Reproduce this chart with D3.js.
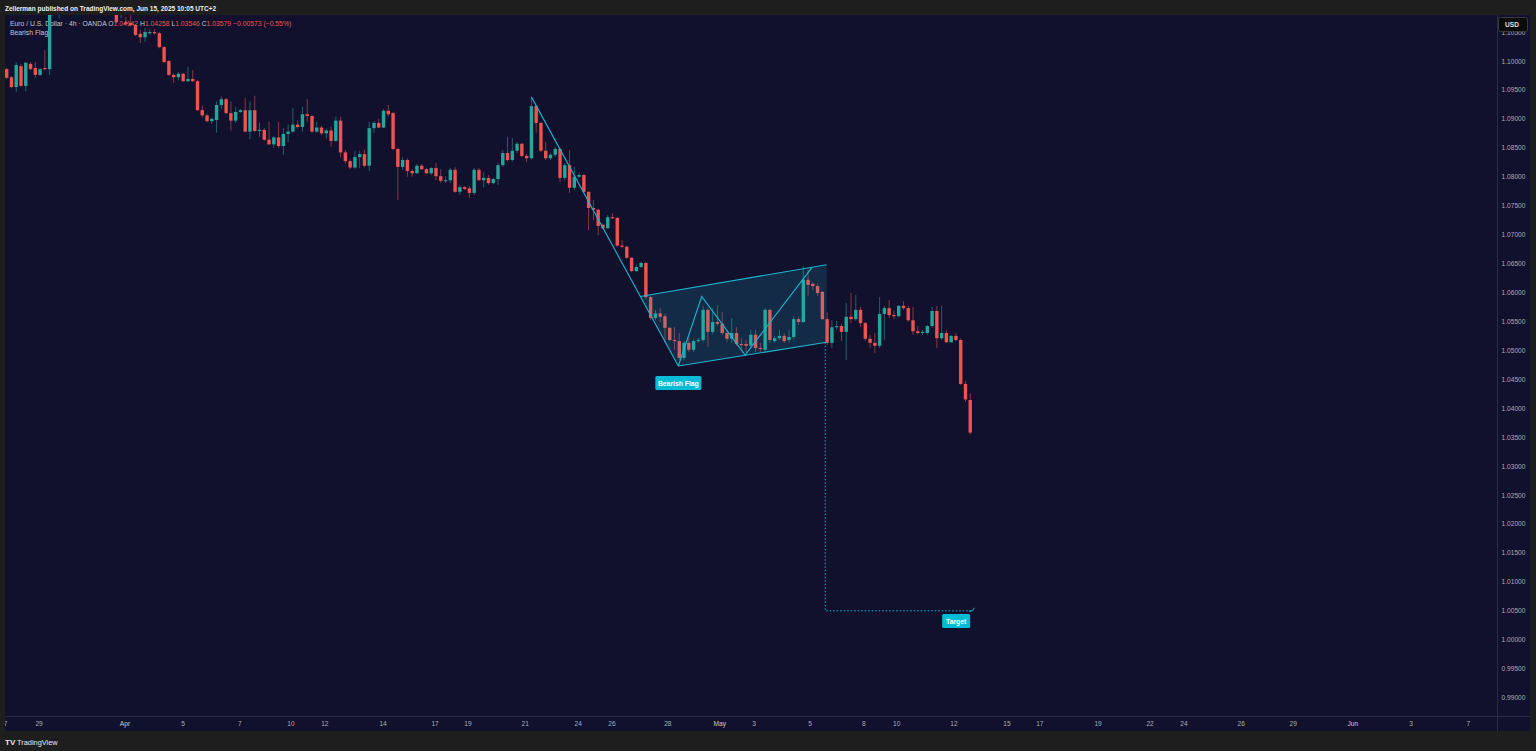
<!DOCTYPE html>
<html><head><meta charset="utf-8">
<script src="https://cdn.jsdelivr.net/npm/d3@7"></script>
<style>html,body{margin:0;padding:0;background:#1e1e1e;overflow:hidden}</style>
</head><body><svg id="c" width="1536" height="751"></svg>
<script>
// ---------- DATA (EUR/USD 4h, OANDA) ----------
const opens=[1.0986,1.0972,1.0955,1.0991,1.0957,1.0995,1.0988,1.0976,1.0988,1.0986,
1.1095,1.1120,1.1135,1.1145,1.1130,1.1120,1.1110,1.1118,1.1105,1.1112,
1.1100,1.1108,1.1095,1.1090,1.1082,1.1067,1.1066,1.1062,1.1047,1.1041,
1.1048,1.1050,1.1048,1.1024,1.1000,1.0976,1.0972,1.0978,1.0965,1.0969,
1.0965,1.0915,1.0906,1.0896,1.0898,1.0924,1.0934,1.0910,1.0897,1.0912,
1.0915,1.0878,1.0915,1.0879,1.0881,1.0864,1.0856,1.0868,1.0853,1.0874,
1.0878,1.0890,1.0886,1.0908,1.0905,1.0878,1.0885,1.0875,1.0880,1.0862,
1.0897,1.0842,1.0827,1.0816,1.0834,1.0839,1.0819,1.0884,1.0893,1.0885,
1.0914,1.0910,1.0848,1.0817,1.0829,1.0810,1.0806,1.0819,1.0813,1.0806,
1.0815,1.0801,1.0793,1.0794,1.0812,1.0774,1.0782,1.0780,1.0772,1.0812,
1.0794,1.0798,1.0789,1.0796,1.0820,1.0841,1.0829,1.0845,1.0857,1.0836,
1.0832,1.0922,1.0893,1.0845,1.0832,1.0838,1.0848,1.0798,1.0820,1.0781,
1.0800,1.0803,1.0774,1.0746,1.0743,1.0717,1.0711,1.0730,1.0729,1.0681,
1.0679,1.0660,1.0637,1.0644,1.0651,1.0592,1.0556,1.0564,1.0559,1.0539,
1.0518,1.0516,1.0487,1.0513,1.0501,1.0516,1.0518,1.0570,1.0532,1.0549,
1.0546,1.0530,1.0520,1.0530,1.0511,1.0511,1.0508,1.0527,1.0504,1.0501,
1.0570,1.0516,1.0521,1.0525,1.0518,1.0523,1.0554,1.0549,1.0622,1.0615,
1.0611,1.0601,1.0554,1.0513,1.0540,1.0542,1.0532,1.0558,1.0554,1.0570,
1.0547,1.0520,1.0513,1.0508,1.0563,1.0573,1.0561,1.0559,1.0577,1.0573,
1.0552,1.0533,1.0530,1.0530,1.0542,1.0568,1.0521,1.0530,1.0514,1.0525,
1.0518,1.0442,1.04142];
const highs=[1.0988,1.0974,1.0998,1.0995,1.0998,1.0998,1.0998,1.0988,1.1019,1.1110,
1.1130,1.1145,1.1155,1.1160,1.1145,1.1135,1.1125,1.1130,1.1120,1.1125,
1.1115,1.1118,1.1110,1.1095,1.1092,1.1076,1.1079,1.1064,1.1054,1.1057,
1.1055,1.1055,1.1050,1.1026,1.1002,1.0979,1.0981,1.0979,1.0990,1.0984,
1.0967,1.0923,1.0909,1.0902,1.0930,1.0939,1.0936,1.0930,1.0920,1.0917,
1.0936,1.0930,1.0940,1.0893,1.0884,1.0895,1.0870,1.0895,1.0884,1.0890,
1.0919,1.0897,1.0921,1.0934,1.0907,1.0895,1.0888,1.0883,1.0887,1.0904,
1.0904,1.0846,1.0830,1.0845,1.0845,1.0847,1.0895,1.0896,1.0900,1.0917,
1.0924,1.0912,1.0850,1.0834,1.0832,1.0813,1.0822,1.0822,1.0815,1.0817,
1.0824,1.0813,1.0801,1.0815,1.0817,1.0786,1.0784,1.0784,1.0815,1.0815,
1.0808,1.0803,1.0798,1.0824,1.0846,1.0869,1.0867,1.0860,1.0858,1.0839,
1.0938,1.0924,1.0895,1.0860,1.0841,1.0851,1.0850,1.0824,1.0846,1.0817,
1.0807,1.0805,1.0775,1.0760,1.0744,1.0718,1.0734,1.0737,1.0730,1.0691,
1.0681,1.0661,1.0648,1.0653,1.0653,1.0594,1.0570,1.0573,1.0563,1.0540,
1.0540,1.0530,1.0516,1.0523,1.0520,1.0521,1.0577,1.0573,1.0573,1.0578,
1.0566,1.0535,1.0556,1.0540,1.0521,1.0518,1.0535,1.0535,1.0513,1.0573,
1.0572,1.0525,1.0535,1.0530,1.0535,1.0559,1.0558,1.0646,1.0639,1.0618,
1.0615,1.0603,1.0566,1.0552,1.0551,1.0546,1.0582,1.0599,1.0596,1.0575,
1.0549,1.0527,1.0530,1.0592,1.0577,1.0587,1.0568,1.0578,1.0585,1.0577,
1.0575,1.0542,1.0535,1.0544,1.0575,1.0577,1.0577,1.0535,1.0526,1.0530,
1.0521,1.0447,1.04258];
const lows=[1.0969,1.0953,1.0946,1.0955,1.0948,1.0984,1.0971,1.0974,1.0984,1.0976,
1.1090,1.1074,1.1110,1.1120,1.1110,1.1100,1.1095,1.1100,1.1090,1.1095,
1.1088,1.1090,1.1085,1.1066,1.1074,1.1062,1.1060,1.1043,1.1031,1.1033,
1.1045,1.1045,1.1022,1.0997,1.0974,1.0962,1.0967,1.0964,1.0964,1.0964,
1.0914,1.0902,1.0894,1.0891,1.0876,1.0917,1.0908,1.0880,1.0893,1.0910,
1.0877,1.0865,1.0877,1.0869,1.0862,1.0855,1.0850,1.0850,1.0838,1.0860,
1.0876,1.0883,1.0878,1.0895,1.0876,1.0876,1.0872,1.0866,1.0852,1.0860,
1.0833,1.0823,1.0813,1.0814,1.0815,1.0816,1.0810,1.0876,1.0884,1.0884,
1.0904,1.0846,1.0760,1.0812,1.0800,1.0800,1.0805,1.0812,1.0805,1.0803,
1.0794,1.0789,1.0789,1.0789,1.0772,1.0769,1.0777,1.0763,1.0768,1.0793,
1.0782,1.0786,1.0787,1.0786,1.0817,1.0826,1.0826,1.0841,1.0834,1.0825,
1.0830,1.0876,1.0843,1.0829,1.0829,1.0834,1.0791,1.0794,1.0772,1.0777,
1.0798,1.0772,1.0708,1.0725,1.0699,1.0710,1.0710,1.0727,1.0679,1.0677,
1.0658,1.0635,1.0635,1.0642,1.0589,1.0552,1.0552,1.0549,1.0514,1.0516,
1.0501,1.0483,1.0483,1.0497,1.0497,1.0513,1.0514,1.0506,1.0528,1.0542,
1.0527,1.0514,1.0513,1.0508,1.0501,1.0497,1.0504,1.0497,1.0497,1.0497,
1.0513,1.0513,1.0518,1.0513,1.0513,1.0518,1.0544,1.0547,1.0594,1.0604,
1.0594,1.0552,1.0509,1.0504,1.0535,1.0516,1.0483,1.0547,1.0551,1.0540,
1.0516,1.0504,1.0495,1.0504,1.0518,1.0556,1.0554,1.0557,1.0570,1.0549,
1.0527,1.0527,1.0527,1.0527,1.0539,1.0504,1.0518,1.0513,1.0513,1.0516,
1.0440,1.0411,1.03546];
const closes=[1.0971,1.0955,1.0993,1.0957,1.0997,1.0986,1.0976,1.0986,1.0986,1.1095,
1.1120,1.1135,1.1145,1.1130,1.1120,1.1110,1.1118,1.1105,1.1112,1.1100,
1.1108,1.1095,1.1090,1.1067,1.1086,1.1064,1.1062,1.1045,1.1041,1.1050,
1.1050,1.1048,1.1024,1.0998,1.0976,1.0972,1.0978,1.0965,1.0969,1.0965,
1.0915,1.0906,1.0896,1.0900,1.0924,1.0934,1.0910,1.0897,1.0912,1.0915,
1.0878,1.0915,1.0879,1.0881,1.0864,1.0856,1.0868,1.0853,1.0874,1.0878,
1.0890,1.0886,1.0908,1.0905,1.0878,1.0885,1.0875,1.0880,1.0862,1.0897,
1.0842,1.0827,1.0816,1.0834,1.0839,1.0819,1.0884,1.0893,1.0885,1.0914,
1.0908,1.0848,1.0817,1.0829,1.0810,1.0806,1.0819,1.0813,1.0806,1.0815,
1.0801,1.0793,1.0794,1.0812,1.0774,1.0782,1.0779,1.0772,1.0812,1.0794,
1.0798,1.0789,1.0796,1.0820,1.0841,1.0829,1.0845,1.0857,1.0836,1.0832,
1.0922,1.0893,1.0845,1.0832,1.0838,1.0848,1.0798,1.0820,1.0781,1.0800,
1.0803,1.0774,1.0746,1.0743,1.0715,1.0711,1.0730,1.0729,1.0681,1.0679,
1.0660,1.0637,1.0644,1.0651,1.0592,1.0556,1.0564,1.0558,1.0539,1.0518,
1.0516,1.0487,1.0513,1.0501,1.0516,1.0518,1.0570,1.0532,1.0549,1.0546,
1.0530,1.0520,1.0530,1.0511,1.0509,1.0508,1.0527,1.0504,1.0503,1.0570,
1.0518,1.0521,1.0525,1.0516,1.0523,1.0554,1.0549,1.0622,1.0613,1.0611,
1.0599,1.0554,1.0513,1.0540,1.0542,1.0532,1.0558,1.0554,1.0570,1.0547,
1.0520,1.0513,1.0508,1.0563,1.0573,1.0561,1.0559,1.0577,1.0573,1.0552,
1.0533,1.0530,1.0532,1.0542,1.0568,1.0521,1.0530,1.0514,1.0525,1.0518,
1.0442,1.04152,1.03579];

// time axis labels, positioned by bar number (4h bars)
const timeLabels=["27","29","Apr","5","7","10","12","14","17","19","21","24","26","28","May","3","5","8","10","12","15","17","19","22","24","26","29","Jun","3","7"];
const timeLabelBars=[-0.6,6.8,24.8,37,48.9,59.6,66.7,78.9,89.8,96.7,108.7,119.8,126.9,138.6,149.5,156.7,168.4,179.7,186.6,198.6,209.7,216.6,228.8,239.7,246.8,258.8,269.7,282.2,294.4,306.4];
const boldTimeLabels=["Apr","May","Jun"];
const priceTicks=[0.99,0.995,1.0,1.005,1.01,1.015,1.02,1.025,1.03,1.035,1.04,1.045,1.05,1.055,1.06,1.065,1.07,1.075,1.08,1.085,1.09,1.095,1.1,1.105];

// Bearish flag drawing (bar, price)
const poleBars=[110,140.8];
const polePrices=[1.0938,1.0473];
const zigzagBars=[140.8,145.7,154.8,168.8];
const zigzagPrices=[1.0473,1.0593,1.0492,1.0643];
const channelBars=[132.8,171.9,171.9,140.8];
const channelPrices=[1.0593,1.0648,1.0514,1.0473];
const targetBars=[171.6,171.6,202.4];
const targetPrices=[1.0514,1.0050,1.0050];

const titleText="Zellerman published on TradingView.com, Jun 15, 2025 10:05 UTC+2";
const symbolText="Euro / U.S. Dollar · 4h · OANDA";
const ohlcLegend=[["O","1.04142"],["H","1.04258"],["L","1.03546"],["C","1.03579"]];
const changeText="−0.00573 (−0.55%)";

// ---------- LAYOUT ----------
const W=1536,H=751;
const panelL=5, panelT=15, plotR=1497, plotB=716, axisR=1530, timeB=731;
const UP="#26a69a", DOWN="#ef5350", BG="#11112d", OUTER="#1e1e1e", GRIDLINE="#2a2b45";
const TEAL="#1cb5d0";
const FONT="'Liberation Sans', Arial, sans-serif";

const svg=d3.select("#c");
svg.append("rect").attr("width",W).attr("height",H).attr("fill",OUTER);
svg.append("rect").attr("x",panelL).attr("y",panelT).attr("width",axisR-panelL).attr("height",timeB-panelT).attr("fill",BG);

const x=d3.scaleLinear().domain([-1.405,312.43]).range([0,plotR]);
const y=d3.scaleLinear().domain([0.98682,1.10795]).range([plotB,panelT]);

const defs=svg.append("defs");
defs.append("clipPath").attr("id","plot").append("rect").attr("x",panelL).attr("y",panelT).attr("width",plotR-panelL).attr("height",plotB-panelT);
defs.append("clipPath").attr("id","taxis").append("rect").attr("x",panelL).attr("y",plotB).attr("width",plotR-panelL).attr("height",timeB-plotB);

// title bar text
svg.append("text").attr("x",5).attr("y",10.5).attr("fill","#f0f0f0").attr("font-family",FONT).attr("font-size",6.5).attr("font-weight",700).text(titleText);

// legend
const plot=svg.append("g").attr("clip-path","url(#plot)");
const leg=plot.append("text").attr("x",10).attr("y",25.5).attr("font-family",FONT).attr("font-size",6.8);
leg.append("tspan").attr("fill","#c3c6ce").text(symbolText+"  ");
ohlcLegend.forEach(([k,v])=>{leg.append("tspan").attr("fill","#c3c6ce").text(" "+k);leg.append("tspan").attr("fill",DOWN).text(v+" ");});
leg.append("tspan").attr("fill",DOWN).text(" "+changeText);
plot.append("text").attr("x",10).attr("y",35).attr("font-family",FONT).attr("font-size",6.8).attr("fill","#c3c6ce").text("Bearish Flag");

// candles
const bars=d3.range(opens.length).map(i=>({i,o:opens[i],h:highs[i],l:lows[i],c:closes[i]}));
const cg=plot.append("g");
const bw=3.4;
cg.selectAll("line.w").data(bars).join("line").attr("class","w")
  .attr("x1",d=>x(d.i)).attr("x2",d=>x(d.i)).attr("y1",d=>y(d.h)).attr("y2",d=>y(d.l))
  .attr("stroke",d=>d.c>=d.o?UP:DOWN).attr("stroke-opacity",0.55).attr("stroke-width",1);
cg.selectAll("rect.b").data(bars).join("rect").attr("class","b")
  .attr("x",d=>x(d.i)-bw/2).attr("width",bw)
  .attr("y",d=>y(Math.max(d.o,d.c)))
  .attr("height",d=>Math.max(1,Math.abs(y(d.o)-y(d.c))))
  .attr("fill",d=>d.c>=d.o?UP:DOWN);

// flag drawing
const pt=(b,p)=>[x(b),y(p)];
const line=d3.line();
const dg=plot.append("g");
dg.append("path").attr("d",line(channelBars.map((b,k)=>pt(b,channelPrices[k])))+"Z")
  .attr("fill","rgba(28,181,208,0.16)").attr("stroke","none");
dg.append("path").attr("d",line([pt(channelBars[0],channelPrices[0]),pt(channelBars[1],channelPrices[1])])).attr("stroke",TEAL).attr("stroke-width",1.1).attr("fill","none");
dg.append("path").attr("d",line([pt(channelBars[3],channelPrices[3]),pt(channelBars[2],channelPrices[2])])).attr("stroke",TEAL).attr("stroke-width",1.1).attr("fill","none");
dg.append("path").attr("d",line(poleBars.map((b,k)=>pt(b,polePrices[k])))).attr("stroke",TEAL).attr("stroke-width",1.1).attr("fill","none");
dg.append("path").attr("d",line(zigzagBars.map((b,k)=>pt(b,zigzagPrices[k])))).attr("stroke",TEAL).attr("stroke-width",1.1).attr("fill","none");
dg.append("path").attr("d",line(targetBars.map((b,k)=>pt(b,targetPrices[k])))).attr("stroke",TEAL).attr("stroke-width",1).attr("stroke-dasharray","1.5,2").attr("fill","none");
const te=pt(targetBars[2],targetPrices[2]);
dg.append("path").attr("d",`M${te[0]-3},${te[1]+0.5}L${te[0]+0.5},${te[1]}L${te[0]+2},${te[1]-3}`).attr("stroke",TEAL).attr("stroke-width",1).attr("fill","none");

function label(cx,top,txt,w){
  const g=dg.append("g");
  g.append("rect").attr("x",cx-w/2).attr("y",top).attr("width",w).attr("height",14).attr("rx",1.5).attr("fill","#00bcd4");
  g.append("text").attr("x",cx).attr("y",top+9.5).attr("text-anchor","middle").attr("font-family",FONT).attr("font-size",6.8).attr("font-weight",700).attr("fill","#ffffff").text(txt);
}
label(x(poleBars[1]),376,"Bearish Flag",46);
label(x(targetBars[2])-16,614,"Target",28);

// price axis
svg.append("line").attr("x1",plotR+0.5).attr("x2",plotR+0.5).attr("y1",panelT).attr("y2",timeB).attr("stroke",GRIDLINE);
svg.append("line").attr("x1",panelL).attr("x2",axisR).attr("y1",plotB+0.5).attr("y2",plotB+0.5).attr("stroke",GRIDLINE);
svg.append("g").selectAll("text").data(priceTicks).join("text")
  .attr("x",1513.5).attr("y",d=>y(d)+2.5).attr("text-anchor","middle")
  .attr("font-family",FONT).attr("font-size",6.6).attr("fill","#a9acb6")
  .text(d=>d3.format(".5f")(d));
svg.append("rect").attr("x",1498.5).attr("y",17.5).attr("width",29).attr("height",14).attr("rx",2).attr("fill","#0b0b0b").attr("stroke","#3a3a3a");
svg.append("text").attr("x",1505).attr("y",27).attr("font-family",FONT).attr("font-size",6.6).attr("font-weight",700).attr("fill","#e0e0e0").text("USD");

// time axis
svg.append("g").attr("clip-path","url(#taxis)").selectAll("text").data(timeLabels).join("text")
  .attr("x",(d,k)=>x(timeLabelBars[k])).attr("y",726).attr("text-anchor","middle")
  .attr("font-family",FONT).attr("font-size",6.6).attr("fill",d=>boldTimeLabels.includes(d)?"#c8cad2":"#a9acb6")
  .text(d=>d);

// footer logo
const f=svg.append("g");
f.append("text").attr("x",5).attr("y",745).attr("font-family",FONT).attr("font-size",8).attr("font-weight",900).attr("fill","#e8e8e8").text("TV");
f.append("text").attr("x",17).attr("y",745).attr("font-family",FONT).attr("font-size",7.4).attr("fill","#e8e8e8").text("TradingView");
</script></body></html>
